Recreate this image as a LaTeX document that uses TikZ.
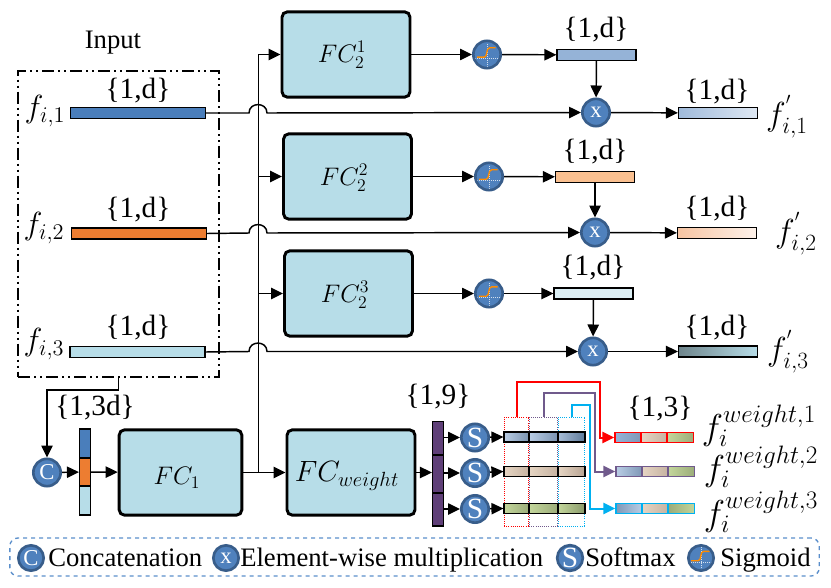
\documentclass[tikz,border=0pt]{standalone}
\usepackage{fix-cm}
\usepackage{fontspec}
\setmainfont{Liberation Serif}
\usetikzlibrary{arrows.meta, positioning}
\definecolor{fcblue}{HTML}{B7DDE8}
\definecolor{opblue}{HTML}{4F81BD}
\definecolor{opring}{HTML}{385D8A}
\definecolor{barblue}{HTML}{4A7EBB}
\definecolor{barorange}{HTML}{ED7D31}
\definecolor{midblue}{HTML}{95B3D7}
\definecolor{midorange}{HTML}{FAC090}
\definecolor{midcyan}{HTML}{DBEEF4}
\definecolor{barpurple}{HTML}{5F3F78}
\definecolor{wtpurple}{HTML}{705A8C}
\definecolor{wtred}{HTML}{FF0000}
\definecolor{wtcyan}{HTML}{00B0F0}
\definecolor{legendblue}{HTML}{5B8FCB}
\definecolor{rowblue}{HTML}{B9CDE5}
\definecolor{rowbluedark}{HTML}{5F7A9A}
\definecolor{rowtan}{HTML}{E6D5C3}
\definecolor{rowtandark}{HTML}{B8A493}
\definecolor{rowgreen}{HTML}{C3D69B}
\definecolor{rowgreendark}{HTML}{8A9A6B}
\tikzset{
  lbl/.style={inner sep=0pt, font=\fontsize{20}{24}\selectfont},
  dimlbl/.style={inner sep=0pt, font=\fontsize{22}{26}\selectfont},
  fclabel/.style={inner sep=0pt, font=\fontsize{19}{23}\selectfont},
  flabel/.style={inner sep=0pt, font=\fontsize{24}{28}\selectfont},
  wlabel/.style={inner sep=0pt, font=\fontsize{25}{30}\selectfont},
  wtlabel/.style={inner sep=0pt, font=\fontsize{27}{32}\selectfont},
  fcbox/.style={draw, line width=2.2pt, rounded corners=4pt, fill=fcblue, minimum width=96pt, minimum height=64pt, inner sep=0pt},
  inbar/.style={draw, line width=1.1pt, minimum width=101pt, minimum height=8pt, inner sep=0pt},
  midbar/.style={draw, line width=1.1pt, minimum width=59pt, minimum height=8pt, inner sep=0pt},
  vecseg/.style={draw, line width=1.1pt, minimum width=8pt, inner sep=0pt},
  cell/.style={draw, line width=1.1pt, minimum height=7.5pt, inner sep=0pt},
  opnode/.style={circle, draw=opring, line width=2pt, fill=opblue, text=white, minimum size=20.5pt, inner sep=0pt, font=\fontsize{17}{18}\selectfont},
  softnode/.style={opnode, font=\fontsize{22}{24}\selectfont},
  sigmoid/.style={opnode, path picture={
    \draw[white!75!opblue, densely dotted, line width=0.5pt] ([xshift=-9pt,yshift=-3pt]path picture bounding box.center) -- ([xshift=9pt,yshift=-3pt]path picture bounding box.center);
    \draw[white!75!opblue, densely dotted, line width=0.5pt] ([yshift=-9pt]path picture bounding box.center) -- ([yshift=9pt]path picture bounding box.center);
    \draw[orange!90!yellow, line width=1pt] ([xshift=-7.5pt,yshift=-2pt]path picture bounding box.center) -- ([xshift=-2pt,yshift=-2pt]path picture bounding box.center) .. controls ([xshift=0.5pt,yshift=-2pt]path picture bounding box.center) and ([xshift=-1pt,yshift=5pt]path picture bounding box.center) .. ([xshift=2pt,yshift=5pt]path picture bounding box.center) -- ([xshift=6.5pt,yshift=5pt]path picture bounding box.center);
  }},
  conn/.style={line width=1.1pt, -{Triangle[length=9pt,width=8.5pt]}},
  plain/.style={line width=1.1pt},
  dotbox/.style={draw, densely dotted, line width=0.6pt, minimum height=82pt, inner sep=0pt},
  wtline/.style={line width=1.5pt, -{Triangle[length=9pt,width=8.5pt]}}
}

\begin{document}
\begin{tikzpicture}[x=0.75pt, y=-0.75pt]
  \useasboundingbox (0,0) rectangle (831,588);

  \node[lbl] (inputtxt) at (113,43) {Input};
  \node[draw, line width=1.1pt, dash pattern=on 9pt off 3pt on 1.5pt off 3pt on 1.5pt off 3pt, minimum width=150.5pt, minimum height=229.5pt, inner sep=0pt] (inputbox) at (118.5,224) {};

  \node[flabel] (fi1) at (45,111) {$f_{i,1}$};
  \node[flabel] (fi2) at (44,228) {$f_{i,2}$};
  \node[flabel] (fi3) at (44,344) {$f_{i,3}$};
  \node[inbar, fill=barblue] (bar1) at (138,113) {};
  \node[inbar, fill=barorange] (bar2) at (139,233.5) {};
  \node[inbar, fill=fcblue] (bar3) at (137.5,352) {};
  \node[dimlbl] (dim1) at (138,91) {\{1,d\}};
  \node[dimlbl] (dim2) at (138,210) {\{1,d\}};
  \node[dimlbl] (dim3) at (138,328) {\{1,d\}};

  \node[fcbox] (fc21) at (346,54.5) {};
  \node[fclabel] (fc21txt) at (342,55) {$FC_2^1$};
  \node[fcbox] (fc22) at (347.5,176.5) {};
  \node[fclabel] (fc22txt) at (344,178) {$FC_2^2$};
  \node[fcbox] (fc23) at (348.5,293.5) {};
  \node[fclabel] (fc23txt) at (345,295) {$FC_2^3$};
  \node[fcbox, minimum width=92pt] (fc1) at (180.5,472.5) {};
  \node[fclabel] (fc1txt) at (177,478) {$FC_1$};
  \node[fcbox] (fcw) at (351,472.5) {};
  \node[fclabel, font=\fontsize{22}{26}\selectfont] (fcwtxt) at (347,476) {$FC_{weight}$};

  \node[sigmoid] (sig1) at (487,54.5) {};
  \node[sigmoid] (sig2) at (489,176.5) {};
  \node[sigmoid] (sig3) at (489,293.5) {};
  \node[midbar, fill=midblue] (mid1) at (596.5,55) {};
  \node[midbar, fill=midorange] (mid2) at (595,177) {};
  \node[midbar, fill=midcyan] (mid3) at (593.5,293.5) {};
  \node[dimlbl] (dimm1) at (596,30) {\{1,d\}};
  \node[dimlbl] (dimm2) at (595,152) {\{1,d\}};
  \node[dimlbl] (dimm3) at (593,268) {\{1,d\}};

  \node[opnode] (mul1) at (596,112.5) {x};
  \node[opnode] (mul2) at (595,232.5) {x};
  \node[opnode] (mul3) at (593,351.5) {x};
  \node[midbar, left color=midblue!90!white, right color=midblue!30!white] (out1) at (718,113) {};
  \node[midbar, left color=barorange!45!white, right color=barorange!10!white] (out2) at (717,233) {};
  \node[midbar, left color=fcblue!60!black, right color=fcblue] (out3) at (718,351.5) {};
  \node[dimlbl] (dimo1) at (717,92) {\{1,d\}};
  \node[dimlbl] (dimo2) at (717,209) {\{1,d\}};
  \node[dimlbl] (dimo3) at (717,328) {\{1,d\}};
  \node[wlabel] (fo1) at (787,117) {$f_{i,1}^{'}$};
  \node[wlabel] (fo2) at (796,234) {$f_{i,2}^{'}$};
  \node[wlabel] (fo3) at (788,352) {$f_{i,3}^{'}$};

  \node[opnode] (concat) at (47,472.5) {C};
  \node[vecseg, fill=barblue, minimum height=21.5pt] (vec1) at (85,443.5) {};
  \node[vecseg, fill=barorange, minimum height=21pt] (vec2) at (85,472) {};
  \node[vecseg, fill=fcblue, minimum height=21.5pt] (vec3) at (85,500.5) {};
  \node[dimlbl] (dimc) at (95,408) {\{1,3d\}};

  \node[vecseg, fill=barpurple, minimum height=25pt] (wv1) at (438,438) {};
  \node[vecseg, fill=barpurple, minimum height=28.5pt] (wv2) at (438,474) {};
  \node[vecseg, fill=barpurple, minimum height=25pt] (wv3) at (438,509.5) {};
  \node[dimlbl] (dimw) at (438,397) {\{1,9\}};
  \node[softnode] (soft1) at (475,437.5) {S};
  \node[softnode] (soft2) at (475,473) {S};
  \node[softnode] (soft3) at (475,509) {S};

  \node[dotbox, draw=wtred, minimum width=18.5pt] (dotred) at (516.5,472) {};
  \node[dotbox, draw=wtpurple, minimum width=21.5pt] (dotpur) at (543.5,472) {};
  \node[dotbox, draw=wtcyan, minimum width=20pt] (dotcyan) at (571.5,472) {};

  \node[cell, minimum width=18.5pt, left color=rowblue, right color=rowbluedark!70!rowblue] (r1a) at (516.5,437) {};
  \node[cell, minimum width=21.5pt, left color=rowblue, right color=rowbluedark!70!rowblue] (r1b) at (543.5,437) {};
  \node[cell, minimum width=20pt, left color=rowblue!80!rowbluedark, right color=rowbluedark] (r1c) at (571.5,437) {};
  \node[cell, minimum width=18.5pt, left color=rowtan, right color=rowtandark!70!rowtan] (r2a) at (516.5,471.5) {};
  \node[cell, minimum width=21.5pt, left color=rowtan, right color=rowtandark!70!rowtan] (r2b) at (543.5,471.5) {};
  \node[cell, minimum width=20pt, left color=rowtan, right color=rowtandark] (r2c) at (571.5,471.5) {};
  \node[cell, minimum width=18.5pt, left color=rowgreen, right color=rowgreendark!70!rowgreen] (r3a) at (516.5,508.5) {};
  \node[cell, minimum width=21.5pt, left color=rowgreen, right color=rowgreendark!70!rowgreen] (r3b) at (543.5,508.5) {};
  \node[cell, minimum width=20pt, left color=rowgreen, right color=rowgreendark] (r3c) at (571.5,508.5) {};

  \node[cell, draw=wtred, minimum width=19.5pt, left color=midblue, right color=midblue!85!black] (w1a) at (628,437.5) {};
  \node[cell, draw=wtred, minimum width=19.5pt, left color=rowtan, right color=rowtandark!70!rowtan] (w1b) at (654,437.5) {};
  \node[cell, draw=wtred, minimum width=19.5pt, left color=rowgreen, right color=rowgreendark!70!rowgreen] (w1c) at (680.5,437.5) {};
  \node[cell, draw=wtpurple, minimum width=19.5pt, left color=rowblue, right color=midblue!85!black] (w2a) at (629,471.5) {};
  \node[cell, draw=wtpurple, minimum width=19.5pt, left color=rowtan, right color=rowtandark!70!rowtan] (w2b) at (655,471.5) {};
  \node[cell, draw=wtpurple, minimum width=19.5pt, left color=rowgreen, right color=rowgreendark!70!rowgreen] (w2c) at (681.5,471.5) {};
  \node[cell, draw=wtcyan, minimum width=19.5pt, left color=midblue!85!black, right color=rowblue] (w3a) at (629,508.5) {};
  \node[cell, draw=wtcyan, minimum width=19.5pt, left color=rowtan, right color=rowtandark!70!rowtan] (w3b) at (655,508.5) {};
  \node[cell, draw=wtcyan, minimum width=19.5pt, left color=rowgreendark!70!rowgreen, right color=rowgreen] (w3c) at (681.5,508.5) {};
  \node[dimlbl] (dimt) at (660,409) {\{1,3\}};
  \node[wtlabel] (fw1) at (759,426) {$f_i^{weight,1}$};
  \node[wtlabel] (fw2) at (761,467) {$f_i^{weight,2}$};
  \node[wtlabel] (fw3) at (761,512) {$f_i^{weight,3}$};

  \coordinate (trunk) at (258.5,472.5);
  \coordinate (branch1) at (258.5,54.5);
  \coordinate (branch2) at (258.5,176.5);
  \coordinate (branch3) at (258.5,293.5);

  \draw[conn] (concat) -- (vec2);
  \draw[conn] (vec2) -- (fc1);
  \draw[conn] (fc1) -- (fcw);
  \draw[plain] (trunk) -- (branch1);
  \draw[conn] (branch1) -- (fc21);
  \draw[conn] (branch2) -- (fc22);
  \draw[conn] (branch3) -- (fc23);
  \draw[conn] (fcw) -- (wv2.west |- fcw);

  \draw[conn] (fc21) -- (sig1);
  \draw[conn] (fc22) -- (sig2);
  \draw[conn] (fc23) -- (sig3);
  \draw[conn] (sig1) -- (mid1);
  \draw[conn] (sig2) -- (mid2);
  \draw[conn] (sig3) -- (mid3);
  \draw[conn] (mid1) -- (mul1);
  \draw[conn] (mid2) -- (mul2);
  \draw[conn] (mid3) -- (mul3);
  \draw[conn] (mul1) -- (out1);
  \draw[conn] (mul2) -- (out2);
  \draw[conn] (mul3) -- (out3);

  \draw[conn] (bar1.east) -- (249,113) to[out=90,in=90,looseness=1.6] (267,113) -- (mul1.west);
  \draw[conn] (bar2.east) -- (249,233) to[out=90,in=90,looseness=1.6] (267,233) -- (mul2.west);
  \draw[conn] (bar3.east) -- (249,351.5) to[out=90,in=90,looseness=1.6] (267,351.5) -- (mul3.west);

  \draw[conn] (inputbox.south) -- (118.5,390) -| (concat.north);

  \draw[conn] (wv1.east |- soft1) -- (soft1);
  \draw[conn] (wv2.east |- soft2) -- (soft2);
  \draw[conn] (wv3.east |- soft3) -- (soft3);
  \draw[conn] (soft1) -- (r1a.west);
  \draw[conn] (soft2) -- (r2a.west);
  \draw[conn] (soft3) -- (r3a.west);

  \draw[wtline, draw=wtred] (dotred.north) |- (600,382) |- (w1a.west);
  \draw[wtline, draw=wtpurple] (dotpur.north) |- (595,393) |- (w2a.west);
  \draw[wtline, draw=wtcyan] (dotcyan.north) |- (590,405) |- (w3a.west);

  \node[draw=legendblue, dashed, line width=1pt, rounded corners=6pt, minimum width=607pt, minimum height=28.5pt, inner sep=0pt] (legend) at (414.5,557) {};
  \node[opnode, minimum size=19pt] (legc) at (31,558) {C};
  \node[lbl, anchor=base west] (legctxt) at (48,566) {Concatenation};
  \node[opnode, minimum size=19pt] (legx) at (226,558) {x};
  \node[lbl, anchor=base west] (legxtxt) at (240,566) {Element-wise multiplication};
  \node[softnode, minimum size=19pt] (legs) at (570,558) {S};
  \node[lbl, anchor=base west] (legstxt) at (585,566) {Softmax};
  \node[sigmoid, minimum size=19pt] (legsig) at (701,558) {};
  \node[lbl, anchor=base west] (legsigtxt) at (720,566) {Sigmoid};

\end{tikzpicture}
\end{document}
